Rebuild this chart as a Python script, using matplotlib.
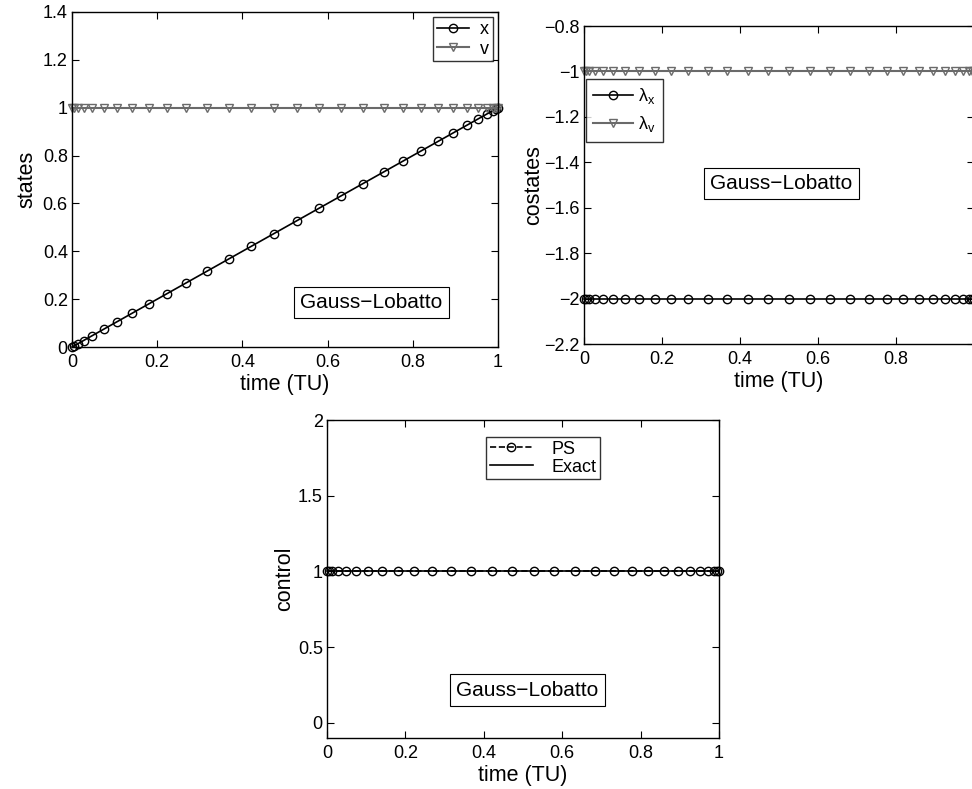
import matplotlib
matplotlib.use("Agg")
import matplotlib.pyplot as plt
from matplotlib.ticker import FuncFormatter

plt.rcParams['font.family'] = ['Liberation Sans', 'DejaVu Sans']
plt.rcParams['mathtext.fontset'] = 'custom'
plt.rcParams['mathtext.rm'] = 'Liberation Sans'
plt.rcParams['mathtext.it'] = 'Liberation Sans'
plt.rcParams['axes.linewidth'] = 1.0

# Gauss-Lobatto node times
t = [0.0, 0.004, 0.013, 0.027, 0.048, 0.074, 0.105, 0.141, 0.181, 0.222,
     0.268, 0.317, 0.368, 0.420, 0.473, 0.527, 0.580, 0.632, 0.683, 0.732,
     0.778, 0.819, 0.859, 0.895, 0.926, 0.952, 0.973, 0.987, 0.996, 1.0]
x_state = [0.0, 0.004, 0.013, 0.027, 0.048, 0.074, 0.105, 0.141, 0.181, 0.222,
           0.268, 0.317, 0.368, 0.420, 0.473, 0.527, 0.580, 0.632, 0.683, 0.732,
           0.778, 0.819, 0.859, 0.895, 0.926, 0.952, 0.973, 0.987, 0.996, 1.0]
v_state = [1.0] * 30
lam_x = [-2.0] * 30
lam_v = [-1.0] * 30
u_ps = [1.0] * 30
t_exact = [0.0, 1.0]
u_exact = [1.0, 1.0]

states_yticks = [0, 0.2, 0.4, 0.6, 0.8, 1.0, 1.2, 1.4]
costates_yticks = [-2.2, -2.0, -1.8, -1.6, -1.4, -1.2, -1.0, -0.8]
control_yticks = [0, 0.5, 1.0, 1.5, 2.0]
xticks = [0, 0.2, 0.4, 0.6, 0.8, 1.0]

GRAY = '#6a6a6a'
fmt = FuncFormatter(lambda v, p: ('%g' % v).replace('-', '\u2212'))

fig = plt.figure(figsize=(9.72, 7.89), dpi=100)
ax1 = fig.add_axes([0.0741, 0.5602, 0.4383, 0.4246])
ax2 = fig.add_axes([0.6008, 0.5640, 0.4012, 0.4030])
ax3 = fig.add_axes([0.3364, 0.0646, 0.4033, 0.4030])

def style(ax):
    ax.tick_params(direction='in', top=True, right=True, length=5, width=0.8,
                   labelsize=13, pad=3)
    ax.tick_params(axis='x', pad=5)
    ax.set_xticks(xticks)
    ax.set_xlim(0, 1)
    ax.xaxis.set_major_formatter(fmt)
    ax.yaxis.set_major_formatter(fmt)
    ax.set_xlabel('time (TU)', fontsize=15.5, labelpad=2)

ms = 6
bbox_kw = dict(boxstyle='square,pad=0.3', fc='white', ec='black', lw=0.8)

# states
ax1.plot(t, x_state, '-o', color='black', lw=1.2, ms=ms, mfc='none', mew=1.0, label='x')
ax1.plot(t, v_state, '-v', color=GRAY, lw=1.5, ms=ms, mfc='none', mew=1.0, label='v')
style(ax1)
ax1.set_ylim(0, 1.4)
ax1.set_yticks(states_yticks)
ax1.set_ylabel('states', fontsize=15.5, labelpad=4)
leg = ax1.legend(loc='upper right', fontsize=13, frameon=True, fancybox=False,
                 edgecolor='black', handlelength=1.8, borderpad=0.2, labelspacing=0.15,
                 borderaxespad=0.3, handletextpad=0.6)
leg.get_frame().set_linewidth(1.0)
ax1.text(0.703, 0.133, 'Gauss\u2212Lobatto', transform=ax1.transAxes, fontsize=15,
         ha='center', va='center', bbox=bbox_kw)

# costates
ax2.plot(t, lam_x, '-o', color='black', lw=1.2, ms=ms, mfc='none', mew=1.0, label=r'$\lambda_\mathregular{x}$')
ax2.plot(t, lam_v, '-v', color=GRAY, lw=1.5, ms=ms, mfc='none', mew=1.0, label=r'$\lambda_\mathregular{v}$')
style(ax2)
ax2.set_ylim(-2.2, -0.8)
ax2.set_yticks(costates_yticks)
ax2.set_xticklabels(['0', '0.2', '0.4', '0.6', '0.8', ''])
ax2.set_ylabel('costates', fontsize=15.5, labelpad=0)
leg = ax2.legend(loc='upper left', bbox_to_anchor=(0.005, 0.833), fontsize=13, frameon=True,
                 fancybox=False, edgecolor='black', handlelength=2.2, borderpad=0.4,
                 labelspacing=0.45, borderaxespad=0.0, handletextpad=0.3)
leg.get_frame().set_linewidth(1.0)
ax2.text(0.506, 0.505, 'Gauss\u2212Lobatto', transform=ax2.transAxes, fontsize=15,
         ha='center', va='center', bbox=bbox_kw)

# control
ax3.plot(t_exact, u_exact, '-', color='black', lw=1.2, label='Exact', zorder=2)
ax3.plot(t, u_ps, '--o', color='black', lw=1.2, ms=ms, mfc='none', mew=1.0, label='PS', zorder=3)
style(ax3)
ax3.set_ylim(-0.1, 2.0)
ax3.set_yticks(control_yticks)
ax3.set_ylabel('control', fontsize=15.5, labelpad=2)
h, l = ax3.get_legend_handles_labels()
leg = ax3.legend([h[1], h[0]], [l[1], l[0]], loc='upper center', bbox_to_anchor=(0.551, 0.975),
                 fontsize=13, frameon=True, fancybox=False, edgecolor='black',
                 handlelength=2.4, borderpad=0.2, labelspacing=0.05, handletextpad=1.0)
leg.get_frame().set_linewidth(1.0)
ax3.text(0.511, 0.151, 'Gauss\u2212Lobatto', transform=ax3.transAxes, fontsize=15,
         ha='center', va='center', bbox=bbox_kw)

for ax in (ax1, ax2, ax3):
    for ln in ax.get_lines():
        ln.set_clip_on(False)

fig.savefig('out.png', dpi=100)
